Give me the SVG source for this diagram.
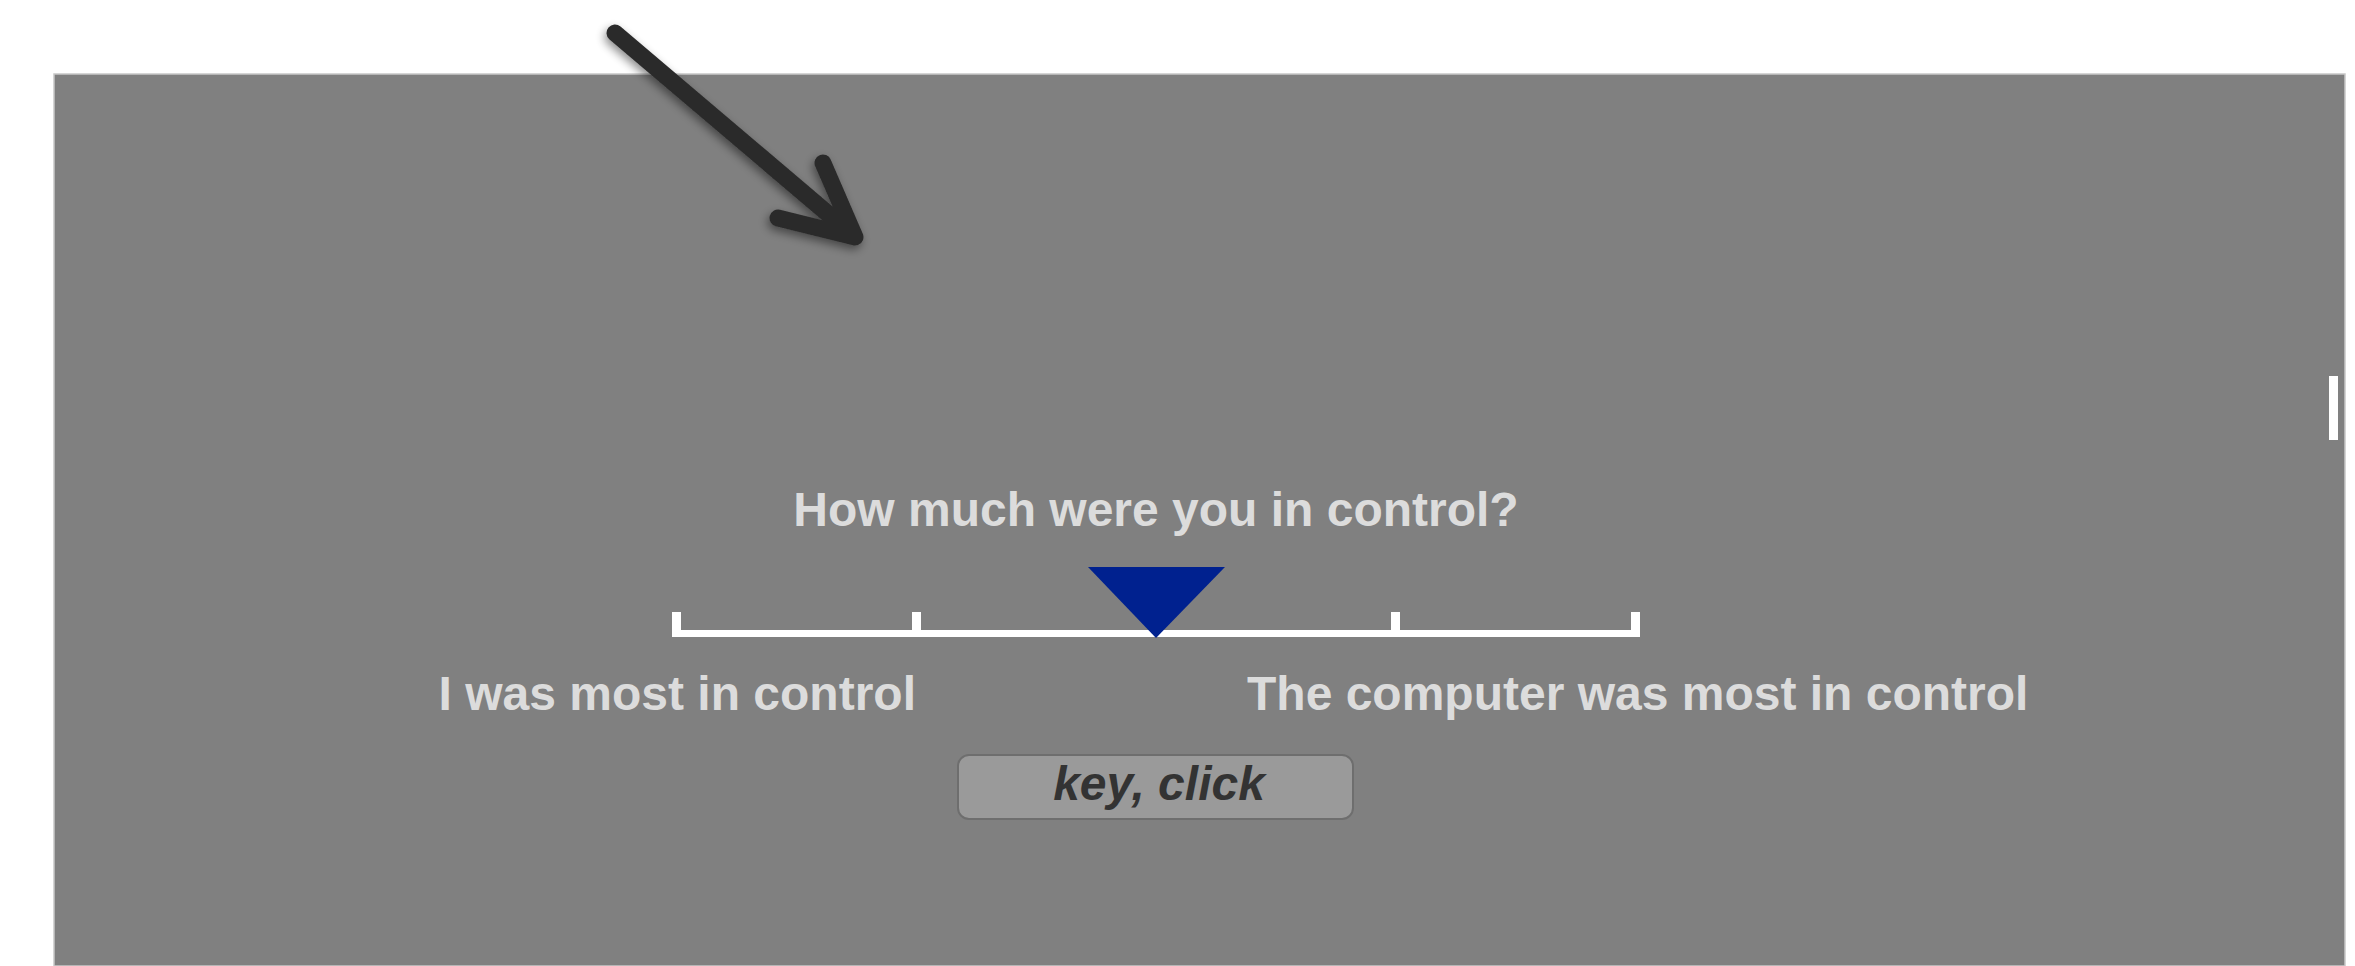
<svg xmlns="http://www.w3.org/2000/svg" width="2355" height="966" viewBox="0 0 2355 966">
<defs>
<style>
.lbl{font-family:"Liberation Sans",Arial,sans-serif;font-weight:bold;font-size:48px;fill:#dcdcdc}
.btn{font-family:"Liberation Sans",Arial,sans-serif;font-weight:bold;font-style:italic;font-size:48px;fill:#333333}
.scale{fill:#ffffff}
</style>
<filter id="sh" x="-20%" y="-20%" width="140%" height="140%">
<feGaussianBlur in="SourceAlpha" stdDeviation="5"/>
<feOffset dx="-2" dy="4" result="b"/>
<feComponentTransfer><feFuncA type="linear" slope="0.45"/></feComponentTransfer>
<feMerge><feMergeNode/><feMergeNode in="SourceGraphic"/></feMerge>
</filter>
</defs>
<rect x="0" y="0" width="2355" height="966" fill="#ffffff"/>
<g id="screen">
<rect x="54" y="74" width="2291" height="892" fill="#808080" stroke="#c8c8c8" stroke-width="1.5"/>
<rect x="2329" y="376" width="9" height="64" fill="#ffffff"/>
</g>
<g id="question">
<text class="lbl" x="1156" y="526" text-anchor="middle">How much were you in control?</text>
</g>
<g id="scale">
<rect class="scale" x="672" y="630" width="968" height="7"/>
<rect class="scale" x="672" y="612" width="9" height="25"/>
<rect class="scale" x="912" y="612" width="9" height="20"/>
<rect class="scale" x="1391" y="612" width="9" height="20"/>
<rect class="scale" x="1631" y="612" width="9" height="25"/>
</g>
<g id="marker">
<polygon points="1088,567 1225,567 1156,638" fill="#00218f"/>
</g>
<g id="left-label">
<text class="lbl" x="916" y="710" text-anchor="end">I was most in control</text>
</g>
<g id="right-label">
<text class="lbl" x="1247" y="710">The computer was most in control</text>
</g>
<g id="button">
<rect x="958" y="755" width="395" height="64" rx="11" fill="#9a9a9a" stroke="#6e6e6e" stroke-width="2"/>
<text class="btn" x="1159" y="800" text-anchor="middle">key, click</text>
</g>
<g id="connectors" filter="url(#sh)">
<path d="M615 33 L853 235 M823 163 L855 237 L778 218" fill="none" stroke="#2b2b2b" stroke-width="17" stroke-linecap="round" stroke-linejoin="round"/>
</g>
</svg>
